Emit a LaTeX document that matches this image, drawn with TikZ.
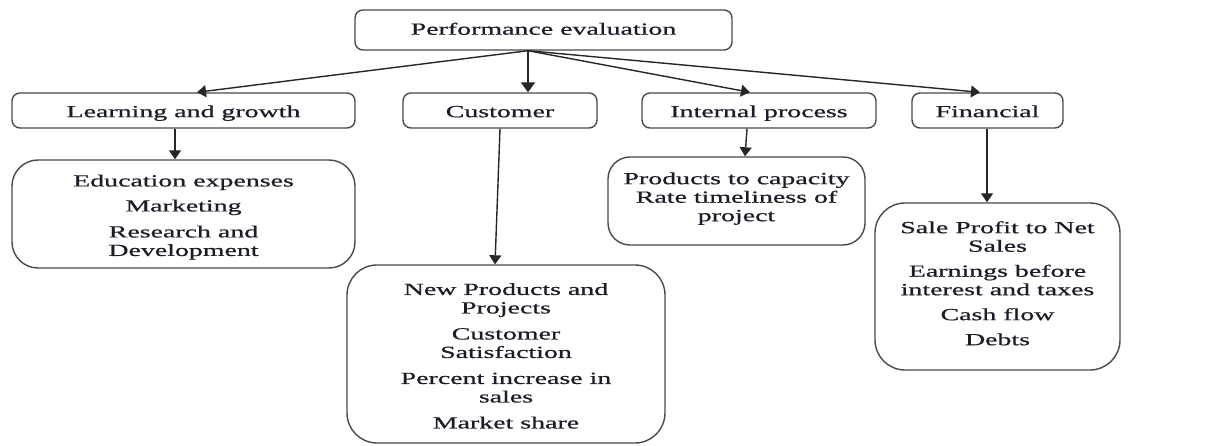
\documentclass[tikz,border=0pt]{standalone}
\usepackage{fontspec}
\usepackage{graphicx}
\setmainfont{Liberation Serif}[FakeBold=0.6]
\usetikzlibrary{arrows.meta}

% wide, horizontally stretched text block
\newcommand{\wtext}[1]{\scalebox{1.64}[1]{\begin{tabular}{@{}c@{}}#1\end{tabular}}}
% the same, moved down by #1 without changing its size
\newcommand{\wtextat}[2]{\raisebox{#1}[\height][\depth]{\wtext{#2}}}
\newcommand{\gap}{\\[6.5pt]}

\definecolor{ink}{HTML}{1C1C28}
\definecolor{edge}{HTML}{4A4A4A}

\tikzset{
  head/.style={draw=edge, line width=1.4pt, rounded corners=8pt, inner sep=0pt,
    minimum height=35pt, text=ink},
  leaf/.style={draw=edge, line width=1.4pt, inner sep=0pt, text=ink},
  link/.style={draw=black!85, line width=1.4pt, -{Triangle[length=9pt,width=12pt]}},
  mainlink/.style={draw=black!85, line width=2.4pt, -{Triangle[length=10pt,width=14pt]}},
}

\begin{document}
\begin{tikzpicture}[x=1pt, y=-1pt, font=\fontsize{17}{18.5}\selectfont]
\useasboundingbox (0,0) rectangle (1232,446);

% top node
\node[head, minimum width=377pt, minimum height=40pt] (PE) at (543.5,30) {\wtextat{-1pt}{Performance evaluation}};

% four perspectives
\node[head, minimum width=343pt] (LG) at (183.5,110.5) {\wtextat{-3pt}{Learning and growth}};
\node[head, minimum width=194pt] (CU) at (500,110.5) {\wtextat{-3pt}{Customer}};
\node[head, minimum width=234pt] (IP) at (759,110.5) {\wtextat{-3pt}{Internal process}};
\node[head, minimum width=151pt] (FI) at (987.5,110.5) {\wtextat{-3pt}{Financial}};

% measures
\node[leaf, rounded corners=26pt, minimum width=343pt, minimum height=108pt] (EDU) at (183.5,214)
  {\wtextat{-3.5pt}{Education expenses\gap Marketing\\[7.5pt] Research and\\ Development}};
\node[leaf, rounded corners=22pt, minimum width=257pt, minimum height=88pt] (PROD) at (736.5,201)
  {\wtextat{2pt}{Products to capacity\\ Rate timeliness of\\ project}};
\node[leaf, rounded corners=30pt, minimum width=245pt, minimum height=167pt] (FBOX) at (997.5,286.5)
  {\wtextat{1pt}{Sale Profit to Net\\ Sales\gap Earnings before\\ interest and taxes\gap Cash flow\gap Debts}};
\node[leaf, rounded corners=30pt, minimum width=318pt, minimum height=178pt] (CBOX) at (506,354)
  {\wtextat{-4pt}{New Products and\\ Projects\\[7.5pt] Customer\\ Satisfaction\\[7.5pt] Percent increase in\\ sales\\[7.5pt] Market share}};

% connectors from the top node
\coordinate (src) at ([xshift=-15.5pt]PE.south);
\draw[link] (src) -- ([xshift=13.5pt]LG.north);
\draw[mainlink] (src) -- ([xshift=28pt]CU.north);
\draw[link] (src) -- ([xshift=-9pt]IP.north);
\draw[link] (src) -- ([xshift=-7.5pt]FI.north);

% connectors to the measures
\draw[link] ([xshift=-8.5pt]LG.south) -- ([xshift=-8.5pt]EDU.north);
\draw[link] (CU.south) -- ([xshift=-11pt]CBOX.north);
\draw[link] ([xshift=-12pt]IP.south) -- ([xshift=8.5pt]PROD.north);
\draw[link] ([xshift=-0.5pt]FI.south) -- ([xshift=-10.5pt]FBOX.north);
\end{tikzpicture}
\end{document}
